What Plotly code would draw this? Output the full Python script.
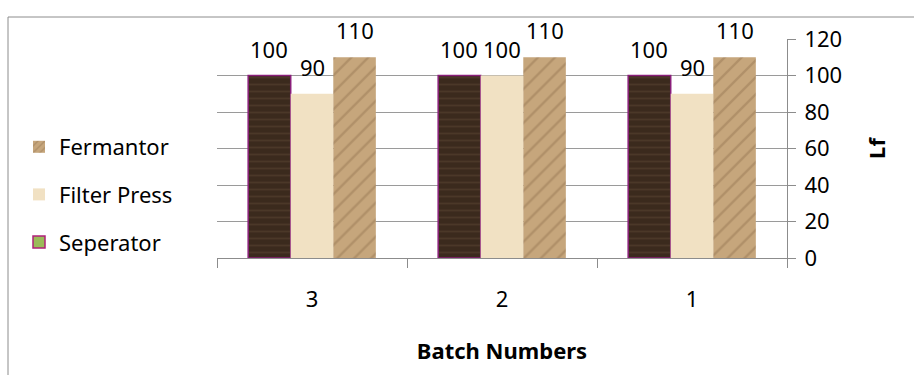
import plotly.graph_objects as go

categories = ["3", "2", "1"]
series_names = ["Seperator", "Filter Press", "Fermantor"]
seperator = [100, 100, 100]
filter_press = [90, 100, 90]
fermantor = [110, 110, 110]
y_ticks = [0, 20, 40, 60, 80, 100, 120]

FONT = "Noto Sans"
FS = 22
BAR_W = 0.224
offsets = [-1.5 * BAR_W, -0.5 * BAR_W, 0.5 * BAR_W]

styles = {
    "Seperator": dict(color="#3b2a1d", line=dict(color="#8a1f7a", width=1.5),
                      pattern=dict(shape="-", fgcolor="#5c4634", bgcolor="#3b2a1d", size=7, solidity=0.25)),
    "Filter Press": dict(color="#f1e1c3", line=dict(width=0)),
    "Fermantor": dict(color="#c3a278", line=dict(width=0),
                      pattern=dict(shape="/", fgcolor="#9a7a55", bgcolor="#c6a67c", size=12, solidity=0.2)),
}
legend_styles = {
    "Seperator": dict(color="#9bbb59", line=dict(color="#b0207a", width=1.5)),
    "Filter Press": dict(color="#f1e1c3", line=dict(width=0)),
    "Fermantor": dict(color="#c3a278", line=dict(width=0),
                      pattern=dict(shape="/", fgcolor="#9a7a55", bgcolor="#c6a67c", size=6, solidity=0.3)),
}

values = {"Seperator": seperator, "Filter Press": filter_press, "Fermantor": fermantor}

fig = go.Figure()
for name, off in zip(series_names, offsets):
    fig.add_trace(go.Bar(x=categories, y=values[name], name=name, marker=styles[name],
                         offset=off, width=BAR_W, showlegend=False, hoverinfo="y"))

# legend entries (Excel legend shows a different swatch for Seperator)
for name in ["Fermantor", "Filter Press", "Seperator"]:
    fig.add_trace(go.Bar(x=categories, y=[None] * len(categories), name=name,
                         marker=legend_styles[name], offset=0, width=BAR_W,
                         legendgroup=name, showlegend=True))

# data labels (category axis positions are indices)
px_per_cat = 570 / 3
for name, off in zip(series_names, offsets):
    for i, v in enumerate(values[name]):
        fig.add_annotation(x=i, y=v, text=str(v), showarrow=False, xref="x", yref="y",
                           xanchor="center", yanchor="bottom",
                           xshift=(off + BAR_W / 2) * px_per_cat, yshift=10,
                           font=dict(family=FONT, size=FS, color="#000000"))

# chart area border
fig.add_shape(type="rect", xref="paper", yref="paper",
              x0=(8 - 217) / 570, x1=(930 - 217) / 570,
              y0=(258 - 390) / 219, y1=(258 - 17) / 219,
              line=dict(color="#8c8c8c", width=1), fillcolor="rgba(0,0,0,0)", layer="below")

fig.update_layout(
    width=914, height=375, autosize=False,
    margin=dict(l=217, r=127, t=39, b=117),
    paper_bgcolor="white", plot_bgcolor="white",
    font=dict(family=FONT, size=FS, color="#000000"),
    barmode="overlay",
    legend=dict(x=(19 - 217) / 570, xanchor="left", y=(258 - 126) / 219, yanchor="top",
                traceorder="grouped", tracegroupgap=16,
                font=dict(family=FONT, size=FS), bgcolor="rgba(0,0,0,0)"),
    xaxis=dict(type="category", categoryorder="array", categoryarray=categories,
               range=[-0.5, len(categories) - 0.5],
               showline=True, linecolor="#8c8c8c", linewidth=1,
               ticks="outside", ticklen=9, tickcolor="#8c8c8c", tickson="boundaries",
               ticklabelstandoff=22, showgrid=False,
               title=dict(text="<b>Batch Numbers</b>", standoff=31, font=dict(family=FONT, size=FS)),
               automargin=False, fixedrange=True),
    yaxis=dict(side="right", range=[0, 120], tickvals=y_ticks,
               showline=True, linecolor="#8c8c8c", linewidth=1,
               ticks="outside", ticklen=8, tickcolor="#8c8c8c", ticklabelstandoff=4,
               showgrid=True, gridcolor="#9a9a9a", gridwidth=1, zeroline=False,
               title=dict(text="<b>Lf</b>", standoff=28, font=dict(family=FONT, size=FS)),
               automargin=False, fixedrange=True),
)

fig.write_html("out.html", config={"displayModeBar": False},
               post_script="document.body.style.margin='0';document.body.style.overflow='hidden';")
